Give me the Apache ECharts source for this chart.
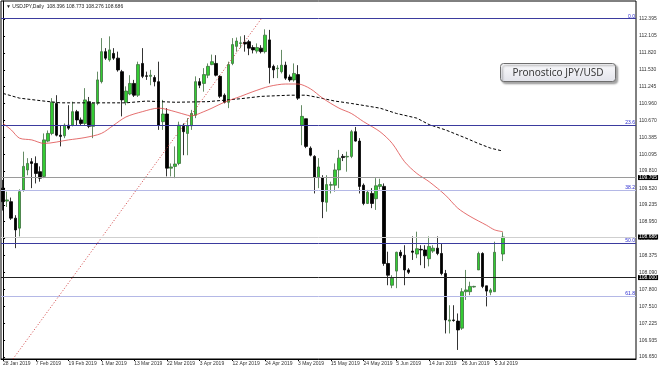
<!DOCTYPE html>
<html><head><meta charset="utf-8">
<script src="https://cdn.jsdelivr.net/npm/echarts@6/dist/echarts.min.js"></script>
<style>html,body{margin:0;padding:0;background:#fff}#c{width:661px;height:369px}</style>
</head><body><div id="c"></div>
<script>
// ---- data (USDJPY daily) ----
const xLabels = ['28 Jan 2019','7 Feb 2019','19 Feb 2019','1 Mar 2019','13 Mar 2019','22 Mar 2019','3 Apr 2019','12 Apr 2019','24 Apr 2019','3 May 2019','15 May 2019','24 May 2019','5 Jun 2019','14 Jun 2019','26 Jun 2019','5 Jul 2019'];
const slotCount = 155;
const opens = [109.52,109.30,109.29,109.01,108.84,109.49,109.83,109.97,109.94,109.80,
109.72,110.32,110.45,110.96,110.42,110.41,110.59,110.59,110.82,110.68,
110.62,110.99,110.57,110.96,111.33,111.84,111.70,111.81,111.73,111.50,
110.98,111.12,111.30,111.10,111.64,111.43,111.42,111.40,111.33,110.65,
110.78,109.86,109.89,109.94,110.59,110.45,110.58,110.76,111.33,111.30,
111.44,111.62,111.64,111.42,111.10,110.98,111.64,111.93,111.98,112.00,
112.01,111.91,111.85,111.90,111.84,112.04,111.59,111.55,111.50,111.61,
111.41,111.36,111.45,110.59,110.70,110.20,110.06,109.70,109.70,109.28,
109.57,109.57,109.83,110.06,110.05,110.06,110.48,110.32,109.57,109.26,
109.43,109.34,109.55,109.55,108.24,107.87,108.11,108.43,108.38,108.13,
108.45,108.40,108.48,108.47,108.32,108.45,108.50,108.41,108.07,107.26,
107.28,107.26,107.14,107.76,107.76,107.84,108.13,108.41,107.86,107.75,
107.76,null,108.40];
const highs = [109.66,109.46,109.36,109.06,109.50,110.14,110.03,110.03,110.06,109.89,
110.45,110.50,111.05,111.10,110.59,110.62,110.93,110.99,110.85,110.72,
111.22,111.07,110.98,111.50,112.07,111.90,112.10,111.90,111.84,111.53,
111.25,111.44,111.36,111.67,111.90,111.50,111.53,111.44,111.67,111.02,
110.88,109.94,110.23,110.65,110.62,110.71,110.85,111.42,111.39,111.56,
111.64,111.79,111.78,111.44,111.13,111.67,112.07,112.08,112.10,112.12,
112.04,111.95,111.98,111.95,112.22,112.21,111.62,111.61,111.87,111.67,
111.45,111.64,111.61,110.93,110.70,110.23,110.08,110.03,109.74,109.74,
109.63,109.94,110.17,110.10,110.14,110.51,110.56,110.37,109.60,109.49,
109.52,109.69,109.68,109.60,108.44,108.04,108.44,108.47,108.55,108.16,
108.70,108.78,108.55,108.55,108.70,108.55,108.70,108.58,108.13,107.53,
107.53,107.39,107.82,108.13,107.93,107.86,108.44,108.43,107.86,107.82,
108.61,null,108.77];
const lows = [109.14,109.20,108.98,108.50,108.70,109.46,109.74,109.52,109.60,109.63,
109.69,110.30,110.42,110.40,110.23,110.37,110.51,110.57,110.59,110.58,
110.59,110.54,110.37,110.93,111.30,111.70,111.67,111.70,111.50,110.74,
110.93,111.10,111.07,111.07,111.39,111.36,111.27,111.25,110.51,110.51,
109.72,109.72,109.69,109.91,110.08,110.08,110.51,110.71,111.22,111.16,
111.39,111.61,111.42,111.05,110.96,110.88,111.61,111.84,111.90,111.84,
111.78,111.81,111.81,111.81,111.81,111.30,111.39,111.39,111.47,111.36,
111.33,111.33,111.02,110.25,110.20,110.06,109.43,109.52,109.01,109.12,
109.43,109.46,109.52,109.98,109.80,110.03,110.31,109.43,109.23,109.25,
109.18,109.15,109.50,108.20,107.87,107.82,107.82,108.33,107.87,108.06,
108.30,108.33,108.21,108.16,108.19,108.42,108.38,108.04,107.05,107.05,
107.25,106.77,107.11,107.62,107.70,107.83,108.13,107.82,107.51,107.70,
107.76,null,108.28];
const closes = [109.29,109.32,109.01,108.81,109.46,109.89,109.94,109.94,109.77,109.69,
110.34,110.45,110.98,110.42,110.40,110.59,110.54,110.82,110.68,110.62,
111.02,110.57,110.96,111.36,111.84,111.73,111.87,111.73,111.53,111.02,
111.17,111.30,111.10,111.62,111.42,111.42,111.44,111.33,110.59,110.78,
109.86,109.88,109.93,110.59,110.48,110.58,110.79,111.33,111.27,111.45,
111.59,111.67,111.44,111.08,110.98,111.62,111.96,112.02,111.99,111.97,
111.90,111.87,111.91,111.84,112.12,111.57,111.53,111.56,111.61,111.39,
111.36,111.47,111.05,110.74,110.23,110.08,109.71,109.88,109.29,109.58,
109.58,109.83,110.03,110.04,110.06,110.48,110.32,109.55,109.26,109.45,
109.26,109.56,109.58,108.24,108.04,107.99,108.43,108.37,108.13,108.09,
108.43,108.49,108.47,108.37,108.53,108.50,108.41,108.07,107.28,107.28,
107.27,107.11,107.76,107.79,107.85,107.85,108.41,107.85,107.77,107.79,
108.43,null,108.69];
// moving averages: [bar index, price]
const maSlow = [[0,111.13],[4,111.05],[10,111.00],[14,110.97],[30,110.97],[35,111.00],[42,110.98],[50,110.99],[58,111.04],[63,111.08],[70,111.10],[74,111.10],[77,111.06],[81,111.00],[85,110.96],[92,110.88],[96,110.79],[101,110.71],[104,110.60],[108,110.51],[113,110.37],[116,110.28],[119,110.20],[122,110.15]];
const maFast = [[0,110.62],[2,110.51],[4,110.37],[7,110.34],[10,110.28],[16,110.34],[20,110.38],[24,110.45],[27,110.59],[30,110.73],[34,110.82],[38,110.88],[42,110.82],[45,110.76],[46,110.75],[49,110.82],[51,110.88],[54,110.98],[58,111.08],[61,111.16],[65,111.25],[69,111.29],[72,111.29],[75,111.21],[78,111.05],[82,110.88],[85,110.79],[88,110.65],[92,110.48],[95,110.28],[98,109.97],[101,109.77],[104,109.63],[108,109.40],[111,109.18],[114,109.04],[118,108.89],[120,108.81],[122,108.78]];
// fibonacci retracement anchors
const fibLow = [-17, 104.763];
const fibHigh = [63, 112.396];
const fibLevels = [0, 23.6, 38.2, 50, 61.8];
const fibNames = ['0.0','23.6','38.2','50.0','61.8'];
const hLines = [109.705, 108.000];
const bidPrice = 108.686;
const yTicks = [106.650,106.935,107.225,107.510,107.800,108.090,108.375,108.665,108.950,109.235,109.520,109.810,110.095,110.385,110.670,110.960,111.245,111.530,111.820,112.105,112.395];
const title = 'USDJPY,Daily  108.396 108.773 108.276 108.686';

const chart = echarts.init(document.getElementById('c'), null, {renderer:'canvas'});
const candles = opens.map((o,i)=> o==null ? '-' : [o, closes[i], lows[i], highs[i]]);
const slots = Array.from({length: slotCount}, (_, i) => i);
const fibDark = '#3b3b9e', fibLight = '#b4b8e6';
const fibMarks = fibLevels.map((lv, k) => {
  const p = fibHigh[1] - lv / 100 * (fibHigh[1] - fibLow[1]);
  const dark = (k === 0 || k === 1 || k === 3);
  return {yAxis: p, lineStyle:{color: dark ? fibDark : fibLight, width:1, type:'solid'},
    label:{show:true, position:'insideEndTop', formatter: fibNames[k], color:'#2a2ad0', fontSize:5, distance:[1,0], fontFamily:'Liberation Sans'}};
});
const priceBox = (p, col) => ({yAxis: p, lineStyle:{color: col, width:1, type:'solid'},
  label:{show:true, position:'end', distance:2, formatter: p.toFixed(3), color:'#fff', backgroundColor:'#000', padding:[0,1,0,1], fontSize:5, fontFamily:'Liberation Sans'}});

chart.setOption({
  animation:false,
  backgroundColor:'#fff',
  grid:{left:1, right:25, top:1, bottom:10, show:true, borderColor:'#000', borderWidth:1, backgroundColor:'#fff'},
  xAxis:[{
    type:'category', data: slots, boundaryGap:true,
    axisLine:{show:true, lineStyle:{color:'#000'}},
    axisTick:{show:true, alignWithLabel:true, length:2, interval:(i)=> i%8===0 && i/8 < xLabels.length, lineStyle:{color:'#000'}},
    axisLabel:{interval:(i)=> i%8===0 && i/8 < xLabels.length, formatter:(v,i)=> xLabels[i/8] || '', align:'left', fontSize:5, color:'#333', margin:2, fontFamily:'Liberation Sans'},
    splitLine:{show:false}
  },{
    type:'value', min:-0.5, max:slotCount-0.5, show:false
  }],
  yAxis:{
    type:'value', position:'right', min:106.616, max:112.701, scale:true,
    axisLine:{show:true, lineStyle:{color:'#000'}},
    axisTick:{show:true, customValues:yTicks, length:2, lineStyle:{color:'#000'}},
    axisLabel:{customValues:yTicks, formatter:(v)=> v.toFixed(3), fontSize:5, color:'#333', margin:3, fontFamily:'Liberation Sans'},
    splitLine:{show:false}
  },
  series:[
    {type:'candlestick', xAxisIndex:0, data:candles, barWidth:3,
      itemStyle:{color:'#33cc33', color0:'#000', borderColor:'#3d6e3d', borderColor0:'#000', borderWidth:0.8},
      markLine:{symbol:['none','none'], silent:true, animation:false,
        data:[...fibMarks, priceBox(hLines[0], '#9a9a9a'), priceBox(hLines[1], '#222'), priceBox(bidPrice, '#cfcfcf')]}
    },
    {type:'line', xAxisIndex:1, data:maSlow, showSymbol:false, symbol:'none', lineStyle:{color:'#000', width:1, type:[3,2]}, z:3},
    {type:'line', xAxisIndex:1, data:maFast, showSymbol:false, symbol:'none', smooth:0.3, lineStyle:{color:'#dd4a4a', width:0.8}, z:3},
    {type:'line', xAxisIndex:1, data:[fibLow, fibHigh], showSymbol:false, symbol:'none', clip:true, lineStyle:{color:'#d04040', width:1, type:[1,2]}, z:3}
  ],
  graphic:[
    {type:'text', left:6, top:4, style:{text:'\u25BC ' + title, font:'5px "Liberation Sans"', fill:'#222'}},
    {type:'group', left:500, top:63, children:[
      {type:'rect', shape:{x:0, y:0, width:115, height:18, r:3},
        style:{fill:new echarts.graphic.LinearGradient(0,0,0,1,[{offset:0,color:'#fbfbfd'},{offset:1,color:'#e2e3ea'}]),
          stroke:'#6e6e6e', lineWidth:1, shadowBlur:2, shadowOffsetX:2, shadowOffsetY:2, shadowColor:'rgba(0,0,0,0.35)'}},
      {type:'text', style:{text:'Pronostico JPY/USD', x:57.5, y:9.5, align:'center', verticalAlign:'middle', font:'10px "Noto Sans"', fill:'#3a3a3a'}}
    ]}
  ]
});
</script></body></html>
